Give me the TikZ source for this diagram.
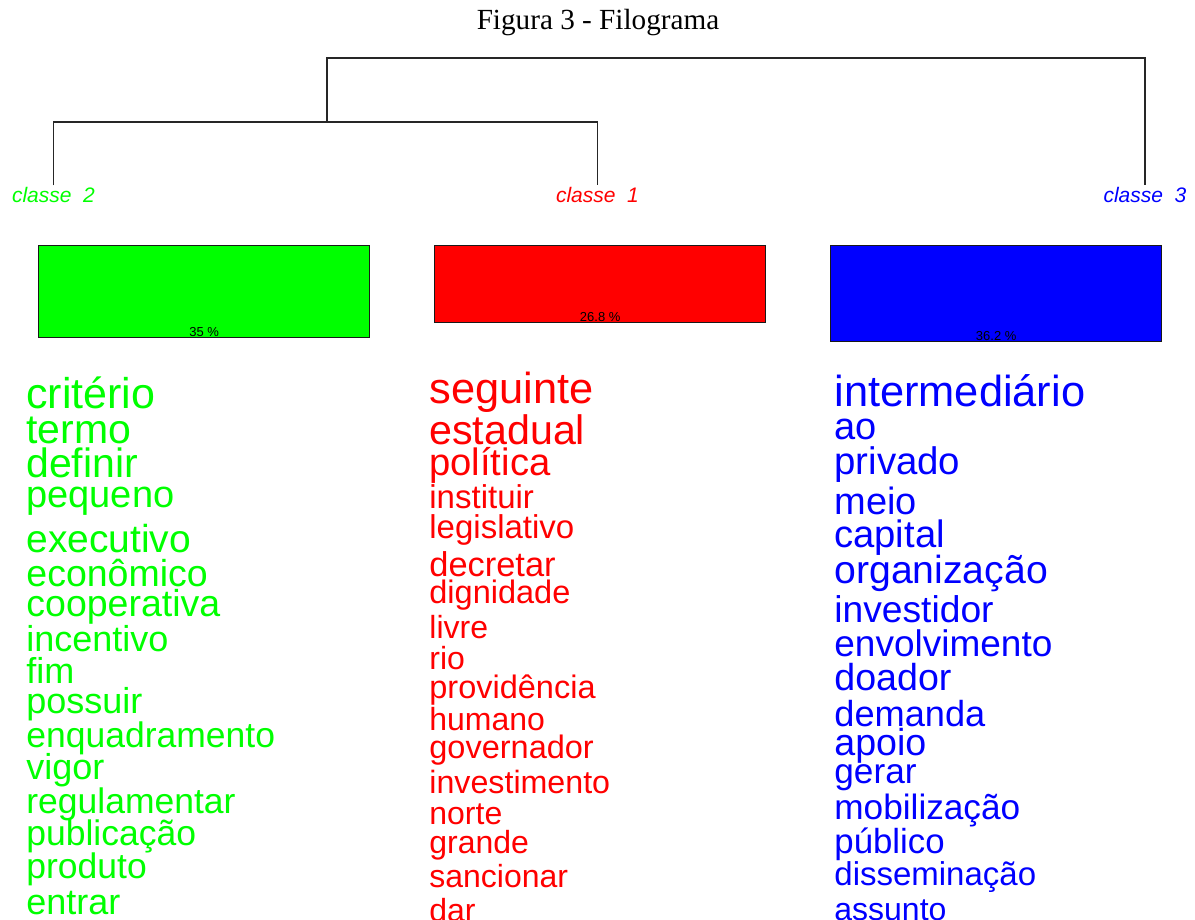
\documentclass[tikz,border=0pt]{standalone}
\usepackage{fontspec}
\setmainfont{Liberation Serif}
\setsansfont{Liberation Sans}

\begin{document}
\begin{tikzpicture}[
    x=0.5pt, y=-0.5pt,
    dendro/.style={draw=black!85, line width=0.8pt},
    classlabel/.style={font=\sffamily\itshape\fontsize{10.5}{12}\selectfont, inner sep=1pt, anchor=base},
    bar/.style={draw=black!90, line width=0.7pt, anchor=north west, minimum width=165.5pt, inner sep=0pt},
    pct/.style={font=\sffamily\fontsize{6.5}{7}\selectfont, anchor=base, inner sep=0pt, yshift=1pt},
    word/.style={anchor=base west, inner sep=0pt}
]
\useasboundingbox (0,0) rectangle (1195,920);
\clip (0,0) rectangle (1195,920);

\node[font=\fontsize{14.6}{16}\selectfont, anchor=base] (title) at (598,30) {Figura 3 - Filograma};

% classes
\node[classlabel, text=green] (c2) at (53.5,203) {classe\ \ 2};
\node[classlabel, text=red] (c1) at (597.5,203) {classe\ \ 1};
\node[classlabel, text=blue] (c3) at (1145,203) {classe\ \ 3};

% dendrogram
\coordinate (join21) at (327,122);
\coordinate (root) at (327,58);
\draw[dendro] (c2.north) |- (join21) -| (c1.north);
\draw[dendro] (join21) -- (root) -| (c3.north);

% bars
\node[bar, fill=green, minimum height=46pt] (bar2) at (38,245) {};
\node[bar, fill=red, minimum height=38.5pt] (bar1) at (434,245) {};
\node[bar, fill=blue, minimum height=48pt] (bar3) at (830,245) {};
\node[pct] (p2) at (bar2.south) {35 \%};
\node[pct] (p1) at (bar1.south) {26.8 \%};
\node[pct] (p3) at (bar3.south) {36.2 \%};

% words
\foreach \yb/\fs/\txt [count=\i] in {408/21.5/critério, 443/20.5/termo, 477/20.5/definir,
    507/19/pequeno, 552/19.5/executivo, 586/18.75/econômico, 616/18.75/cooperativa,
    651/18/incentivo, 683/18/fim, 713/18/possuir, 747/17.75/enquadramento, 779/18/vigor,
    813/17.75/regulamentar, 845/17.75/publicação, 878/17.75/produto, 914/18/entrar}
  \node[word, text=green, font={\sffamily\fontsize{\fs}{\fs}\selectfont}] (g\i) at (26,\yb) {\txt};

\foreach \yb/\fs/\txt [count=\i] in {403/21.7/seguinte, 444/20.6/estadual, 475/19.1/política,
    508/16.5/instituir, 538/16.5/legislativo, 576/17.2/decretar, 603/16.25/dignidade,
    638/16/livre, 669/16/rio, 698/16.25/providência, 730/16/humano, 758/16.25/governador,
    793/16.1/investimento, 824/16/norte, 853/16/grande, 887/16/sancionar, 921/16/dar}
  \node[word, text=red, font={\sffamily\fontsize{\fs}{\fs}\selectfont}] (r\i) at (429,\yb) {\txt};

\foreach \yb/\fs/\txt [count=\i] in {406/21.7/intermediário, 439/19/ao, 474/19.2/privado,
    514/19/meio, 547/19.1/capital, 583/19.6/organização, 622/18.6/investidor,
    656/18.5/envolvimento, 690/18.8/doador, 726/18.1/demanda, 755/18.8/apoio,
    783/17.6/gerar, 819/17.6/mobilização, 853/17.4/público, 885/16.5/disseminação,
    920/16/assunto}
  \node[word, text=blue, font={\sffamily\fontsize{\fs}{\fs}\selectfont}] (b\i) at (834,\yb) {\txt};

\end{tikzpicture}
\end{document}
